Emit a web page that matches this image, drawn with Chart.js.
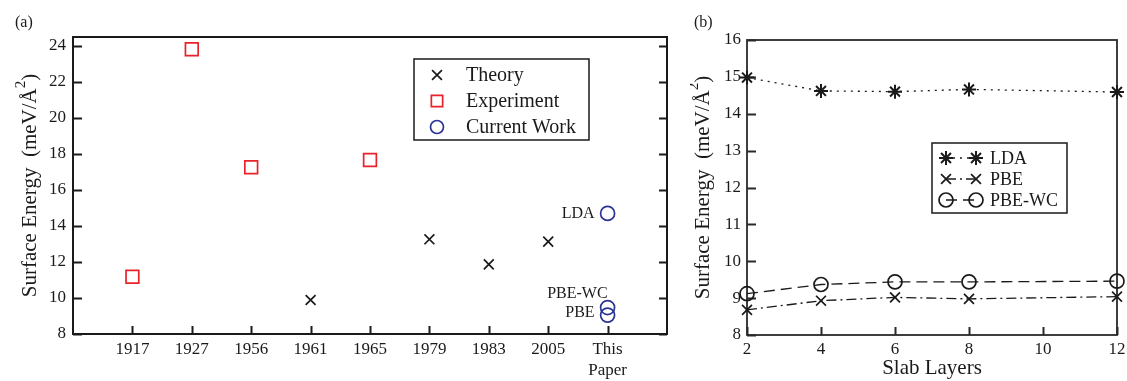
<!DOCTYPE html>
<html>
<head>
<meta charset="utf-8">
<script src="https://cdn.jsdelivr.net/npm/chart.js@4.4.0/dist/chart.umd.min.js"></script>
<style>
  html, body { margin: 0; padding: 0; background: #fff; }
  #wrap { position: relative; width: 1127px; height: 381px; }
  .panel { position: absolute; top: 0; }
  #panelA { left: 0; }
  #panelB { left: 690px; }
</style>
</head>
<body>
<div id="wrap">
  <div class="panel" id="panelA"><canvas id="chartA" width="690" height="381"></canvas></div>
  <div class="panel" id="panelB"><canvas id="chartB" width="437" height="381"></canvas></div>
</div>
<script>
// ---- panel (a): literature values vs this work ----
const sourceLabels = ['1917', '1927', '1956', '1961', '1965', '1979', '1983', '2005', 'This Paper'];
const theoryYears = ['1961', '1979', '1983', '2005'];
const theoryValues = [9.89, 13.26, 11.87, 13.13];
const experimentYears = ['1917', '1927', '1956', '1965'];
const experimentValues = [11.18, 23.82, 17.26, 17.67];
const currentMethods = ['LDA', 'PBE-WC', 'PBE'];
const currentValues = [14.70, 9.47, 9.05];
const energyMajorA = [8, 10, 12, 14, 16, 18, 20, 22, 24];

// ---- panel (b): convergence with slab thickness ----
const slabLayers = [2, 4, 6, 8, 12];
const ldaValues = [14.98, 14.62, 14.60, 14.66, 14.59];
const pbeValues = [8.68, 8.93, 9.02, 8.98, 9.04];
const pbeWcValues = [9.12, 9.37, 9.44, 9.44, 9.46];
const layerTicks = [2, 4, 6, 8, 10, 12];
const energyMajorB = [8, 9, 10, 11, 12, 13, 14, 15, 16];

const SERIF = '"Liberation Serif", "Times New Roman", serif';
const INK = '#1a1a1a';
const RED = '#e8212b';
const BLUE = '#2b3494';

function slot(year) {
  return sourceLabels.indexOf(year) + 1;
}

// small marker painter used by the hand-drawn legends
function drawMarker(ctx, style, x, y, r, color, lw) {
  ctx.save();
  ctx.strokeStyle = color;
  ctx.lineWidth = lw;
  ctx.setLineDash([]);
  ctx.beginPath();
  if (style === 'crossRot') {
    const d = r * Math.SQRT1_2;
    ctx.moveTo(x - d, y - d); ctx.lineTo(x + d, y + d);
    ctx.moveTo(x - d, y + d); ctx.lineTo(x + d, y - d);
  } else if (style === 'rect') {
    const d = r * Math.SQRT1_2;
    ctx.rect(x - d, y - d, 2 * d, 2 * d);
  } else if (style === 'circle') {
    ctx.arc(x, y, r, 0, Math.PI * 2);
  } else if (style === 'star') {
    const d = r * Math.SQRT1_2;
    ctx.moveTo(x - r, y); ctx.lineTo(x + r, y);
    ctx.moveTo(x, y - r); ctx.lineTo(x, y + r);
    ctx.moveTo(x - d, y - d); ctx.lineTo(x + d, y + d);
    ctx.moveTo(x - d, y + d); ctx.lineTo(x + d, y - d);
  }
  ctx.stroke();
  ctx.restore();
}

// box frame + inward tick marks, drawn from the scales' own ticks
const framePlugin = {
  id: 'frame',
  beforeDatasetsDraw(chart, args, opts) {
    const ctx = chart.ctx;
    const a = chart.chartArea;
    const xs = chart.scales.x;
    const ys = chart.scales.y;
    ctx.save();
    ctx.strokeStyle = opts.color;
    ctx.lineWidth = opts.tickWidth;
    ctx.beginPath();
    ys.ticks.forEach(t => {
      const y = Math.round(ys.getPixelForValue(t.value)) + 0.5;
      const major = opts.yMajor.includes(t.value);
      const len = major ? opts.majorLen : opts.minorLen;
      ctx.moveTo(a.left, y); ctx.lineTo(a.left + len, y);
      if (opts.rightTicks) {
        const rlen = major ? opts.rightMajorLen : opts.rightMinorLen;
        ctx.moveTo(a.right, y); ctx.lineTo(a.right - rlen, y);
      }
    });
    xs.ticks.forEach(t => {
      if (!opts.xMarks.includes(t.value)) return;
      const x = Math.round(xs.getPixelForValue(t.value)) + 0.5;
      ctx.moveTo(x, a.bottom); ctx.lineTo(x, a.bottom - opts.xLen);
    });
    ctx.stroke();
    ctx.lineWidth = opts.width;
    ctx.strokeRect(a.left, a.top, a.right - a.left, a.bottom - a.top);
    ctx.restore();
  }
};

// rotated y title with raised "2", panel tag, x title
const textPlugin = {
  id: 'texts',
  afterDraw(chart, args, opts) {
    const ctx = chart.ctx;
    const a = chart.chartArea;
    ctx.save();
    ctx.fillStyle = INK;
    // panel tag
    ctx.font = '16px ' + SERIF;
    ctx.textAlign = 'left';
    ctx.textBaseline = 'middle';
    ctx.fillText(opts.tag, opts.tagX, opts.tagY);
    // y title
    const big = '21px ' + SERIF;
    const small = '15px ' + SERIF;
    const p1 = 'Surface Energy  (meV/\u00C5';
    const p2 = '2';
    const p3 = ')';
    ctx.font = big;
    const w1 = ctx.measureText(p1).width;
    const w3 = ctx.measureText(p3).width;
    ctx.font = small;
    const w2 = ctx.measureText(p2).width;
    const total = w1 + w2 + w3;
    ctx.translate(opts.titleX, (a.top + a.bottom) / 2);
    ctx.rotate(-Math.PI / 2);
    ctx.textBaseline = 'alphabetic';
    ctx.textAlign = 'left';
    let cx = -total / 2;
    ctx.font = big;
    ctx.fillText(p1, cx, 0);
    cx += w1;
    ctx.font = small;
    ctx.fillText(p2, cx, -11);
    cx += w2;
    ctx.font = big;
    ctx.fillText(p3, cx, 0);
    ctx.restore();
    if (opts.xTitle) {
      ctx.save();
      ctx.fillStyle = INK;
      ctx.font = '21px ' + SERIF;
      ctx.textAlign = 'center';
      ctx.textBaseline = 'alphabetic';
      ctx.fillText(opts.xTitle, (a.left + a.right) / 2, opts.xTitleY);
      ctx.restore();
    }
  }
};

// legend (a): single markers
const legendAPlugin = {
  id: 'legendA',
  afterDraw(chart, args, opts) {
    const ctx = chart.ctx;
    const b = opts.box;
    ctx.save();
    ctx.fillStyle = '#fff';
    ctx.fillRect(b[0], b[1], b[2], b[3]);
    ctx.strokeStyle = INK;
    ctx.lineWidth = 1.5;
    ctx.strokeRect(b[0], b[1], b[2], b[3]);
    ctx.font = '20px ' + SERIF;
    ctx.textAlign = 'left';
    ctx.textBaseline = 'middle';
    ctx.fillStyle = INK;
    chart.data.datasets.forEach((ds, i) => {
      const y = opts.rowY + i * opts.rowGap;
      drawMarker(ctx, ds.pointStyle, opts.markerX, y, ds.legendRadius, ds.borderColor, ds.pointBorderWidth);
      ctx.fillText(ds.label, opts.textX, y + 1);
    });
    ctx.restore();
  }
};

// method labels next to the "This Paper" circles
const methodLabelPlugin = {
  id: 'methodLabels',
  afterDatasetsDraw(chart, args, opts) {
    const ctx = chart.ctx;
    const meta = chart.getDatasetMeta(opts.datasetIndex);
    ctx.save();
    ctx.fillStyle = INK;
    ctx.font = '16px ' + SERIF;
    ctx.textAlign = 'right';
    ctx.textBaseline = 'middle';
    meta.data.forEach((pt, i) => {
      const off = opts.offsets[i];
      ctx.fillText(currentMethods[i], pt.x + off[0], pt.y + off[1]);
    });
    ctx.restore();
  }
};

// legend (b): marker - line - marker
const legendBPlugin = {
  id: 'legendB',
  afterDraw(chart, args, opts) {
    const ctx = chart.ctx;
    const b = opts.box;
    ctx.save();
    ctx.fillStyle = '#fff';
    ctx.fillRect(b[0], b[1], b[2], b[3]);
    ctx.strokeStyle = INK;
    ctx.lineWidth = 1.5;
    ctx.strokeRect(b[0], b[1], b[2], b[3]);
    ctx.font = '18px ' + SERIF;
    ctx.textAlign = 'left';
    ctx.textBaseline = 'middle';
    ctx.fillStyle = INK;
    chart.data.datasets.forEach((ds, i) => {
      const y = opts.rowY + i * opts.rowGap;
      ctx.save();
      ctx.strokeStyle = ds.borderColor;
      ctx.lineWidth = ds.borderWidth;
      ctx.setLineDash(ds.borderDash);
      ctx.beginPath();
      ctx.moveTo(opts.x1, y);
      ctx.lineTo(opts.x2, y);
      ctx.stroke();
      ctx.restore();
      drawMarker(ctx, ds.pointStyle, opts.x1, y, ds.pointRadius, ds.borderColor, ds.pointBorderWidth);
      drawMarker(ctx, ds.pointStyle, opts.x2, y, ds.pointRadius, ds.borderColor, ds.pointBorderWidth);
      ctx.fillText(ds.label, opts.textX, y + 1);
    });
    ctx.restore();
  }
};

const tickFont = { family: SERIF, size: 17, lineHeight: 1.18 };

// ---------- chart (a) ----------
new Chart(document.getElementById('chartA'), {
  type: 'scatter',
  data: {
    datasets: [
      {
        label: 'Theory',
        data: theoryYears.map((yr, i) => ({ x: slot(yr), y: theoryValues[i] })),
        pointStyle: 'crossRot',
        pointRadius: 7,
        legendRadius: 7,
        borderColor: INK,
        pointBorderWidth: 1.7,
        clip: false
      },
      {
        label: 'Experiment',
        data: experimentYears.map((yr, i) => ({ x: slot(yr), y: experimentValues[i] })),
        pointStyle: 'rect',
        pointRadius: 9,
        legendRadius: 8,
        borderColor: RED,
        backgroundColor: 'transparent',
        pointBorderWidth: 1.7,
        clip: false
      },
      {
        label: 'Current Work',
        data: currentValues.map(v => ({ x: slot('This Paper'), y: v })),
        pointStyle: 'circle',
        pointRadius: 7,
        legendRadius: 6.5,
        borderColor: BLUE,
        backgroundColor: 'transparent',
        pointBorderWidth: 1.7,
        clip: false
      }
    ]
  },
  options: {
    responsive: false,
    animation: false,
    events: [],
    layout: { padding: { top: 37, right: 23, left: 0, bottom: 0 } },
    scales: {
      x: {
        type: 'linear',
        min: 0,
        max: sourceLabels.length + 1,
        grid: { display: false, drawTicks: false },
        border: { display: false },
        afterFit: s => { s.height = 47; s.paddingLeft = 0; s.paddingRight = 0; },
        ticks: {
          stepSize: 1,
          autoSkip: false,
          maxRotation: 0,
          includeBounds: false,
          padding: 6,
          color: INK,
          font: tickFont,
          callback: v => {
            const lbl = sourceLabels[v - 1];
            if (!lbl) return '';
            return lbl.includes(' ') ? lbl.split(' ') : lbl;
          }
        }
      },
      y: {
        min: 8,
        max: 24.5,
        grid: { display: false, drawTicks: false },
        border: { display: false },
        afterFit: s => { s.width = 73; s.paddingTop = 0; s.paddingBottom = 0; },
        ticks: {
          stepSize: 1,
          includeBounds: false,
          padding: 7,
          color: INK,
          font: tickFont,
          callback: v => (energyMajorA.includes(v) ? String(v) : '')
        }
      }
    },
    plugins: {
      legend: { display: false },
      tooltip: { enabled: false },
      frame: {
        color: INK, width: 2, tickWidth: 2,
        yMajor: energyMajorA, majorLen: 9, minorLen: 5,
        rightTicks: true, rightMajorLen: 8, rightMinorLen: 5,
        xMarks: sourceLabels.map((l, i) => i + 1), xLen: 8
      },
      texts: { tag: '(a)', tagX: 15, tagY: 23, titleX: 36 },
      legendA: { box: [414, 59, 175, 81], markerX: 437, textX: 466, rowY: 75, rowGap: 26 },
      methodLabels: { datasetIndex: 2, offsets: [[-13, 0], [0, -13.5], [-13, -2.5]] }
    }
  },
  plugins: [framePlugin, textPlugin, legendAPlugin, methodLabelPlugin]
});

// ---------- chart (b) ----------
new Chart(document.getElementById('chartB'), {
  type: 'line',
  data: {
    datasets: [
      {
        label: 'LDA',
        data: slabLayers.map((n, i) => ({ x: n, y: ldaValues[i] })),
        borderColor: INK,
        borderWidth: 1.3,
        borderDash: [2, 5],
        pointStyle: 'star',
        pointRadius: 7,
        pointBorderWidth: 2,
        backgroundColor: 'transparent',
        fill: false,
        tension: 0,
        clip: false
      },
      {
        label: 'PBE',
        data: slabLayers.map((n, i) => ({ x: n, y: pbeValues[i] })),
        borderColor: INK,
        borderWidth: 1.3,
        borderDash: [10, 4, 2, 4],
        pointStyle: 'crossRot',
        pointRadius: 7,
        pointBorderWidth: 1.7,
        backgroundColor: 'transparent',
        fill: false,
        tension: 0,
        clip: false
      },
      {
        label: 'PBE-WC',
        data: slabLayers.map((n, i) => ({ x: n, y: pbeWcValues[i] })),
        borderColor: INK,
        borderWidth: 1.3,
        borderDash: [11, 6],
        pointStyle: 'circle',
        pointRadius: 7,
        pointBorderWidth: 1.7,
        backgroundColor: 'transparent',
        fill: false,
        tension: 0,
        clip: false
      }
    ]
  },
  options: {
    responsive: false,
    animation: false,
    events: [],
    layout: { padding: { top: 40, right: 10, left: 0, bottom: 0 } },
    scales: {
      x: {
        type: 'linear',
        min: 2,
        max: 12,
        grid: { display: false, drawTicks: false },
        border: { display: false },
        afterFit: s => { s.height = 46; s.paddingLeft = 0; s.paddingRight = 0; },
        ticks: {
          stepSize: 2,
          autoSkip: false,
          maxRotation: 0,
          padding: 5,
          color: INK,
          font: tickFont
        }
      },
      y: {
        min: 8,
        max: 16,
        grid: { display: false, drawTicks: false },
        border: { display: false },
        afterFit: s => { s.width = 57; s.paddingTop = 0; s.paddingBottom = 0; },
        ticks: {
          stepSize: 1,
          padding: 6,
          color: INK,
          font: tickFont
        }
      }
    },
    plugins: {
      legend: { display: false },
      tooltip: { enabled: false },
      frame: {
        color: '#2a2a2a', width: 1.8, tickWidth: 2,
        yMajor: energyMajorB, majorLen: 9, minorLen: 5,
        rightTicks: false,
        xMarks: layerTicks, xLen: 8
      },
      texts: { tag: '(b)', tagX: 4, tagY: 23, titleX: 19, xTitle: 'Slab Layers', xTitleY: 374 },
      legendB: { box: [242, 143, 135, 70], x1: 256, x2: 286, textX: 300, rowY: 158, rowGap: 21 }
    }
  },
  plugins: [framePlugin, textPlugin, legendBPlugin]
});
</script>
</body>
</html>
